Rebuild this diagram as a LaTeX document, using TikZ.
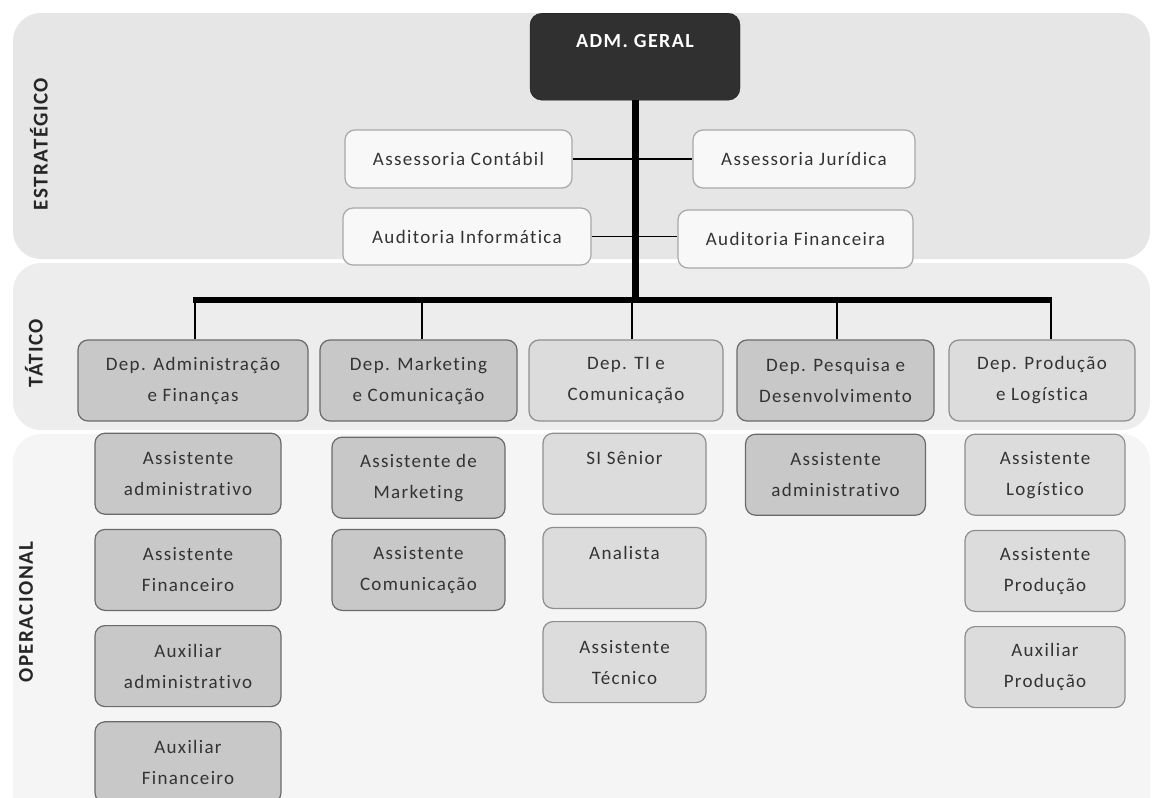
\documentclass[tikz,border=0pt]{standalone}
\usepackage{fontspec}
\setmainfont{Carlito}[LetterSpace=7, Ligatures=NoCommon]
\usetikzlibrary{positioning}
\definecolor{bandstrat}{HTML}{E6E6E6}
\definecolor{bandtat}{HTML}{EDEDED}
\definecolor{bandop}{HTML}{F5F5F5}
\definecolor{darkfill}{HTML}{C8C8C8}
\definecolor{lightfill}{HTML}{DCDCDC}
\definecolor{darkline}{HTML}{6A6A6A}
\definecolor{lightline}{HTML}{8E8E8E}
\definecolor{staffline}{HTML}{A8A8A8}
\definecolor{staffwhite}{HTML}{F8F8F8}
\definecolor{textgray}{HTML}{333333}
\definecolor{admfill}{HTML}{303030}
\tikzset{%
    band/.style = {rounded corners=28pt},
    bandlabel/.style = {rotate=90, text=black!85,
        font=\fontsize{21}{21}\selectfont\bfseries},
    unit/.style = {rectangle, rounded corners=10pt, line width=1.2pt,
        inner sep=0pt, align=center, text=textgray,
        font=\fontsize{19}{31}\selectfont},
    staff/.style = {unit, fill=staffwhite, draw=staffline, minimum height=58pt},
    deptdark/.style = {unit, fill=darkfill, draw=darkline, minimum height=81pt},
    deptlight/.style = {unit, fill=lightfill, draw=lightline, minimum height=81pt},
    admbox/.style = {rectangle, rounded corners=12pt, fill=admfill, draw=black!90,
        inner sep=0pt, minimum width=210pt, text=white,
        font=\fontsize{20}{20}\selectfont\bfseries},
    trunk/.style = {draw=black, line width=7pt},
    bus/.style = {draw=black, line width=6pt},
    link/.style = {draw=black, line width=1.5pt},
}

\begin{document}
\begin{tikzpicture}[x=1pt, y=-1pt, node distance=12pt]
    \useasboundingbox (0,0) rectangle (1152,798);
    \clip (0,0) rectangle (1152,798);
    % faixas dos niveis
    \fill[band, bandop] (13,434) rectangle (1150,840);
    \fill[band, bandtat] (13,263) rectangle (1150,430);
    \fill[band, bandstrat] (13,13) rectangle (1150,259);
    \node[bandlabel] (lstrat) at (39,144) {ESTRATÉGICO};
    \node[bandlabel] (ltat) at (34,353) {TÁTICO};
    \node[bandlabel] (lop) at (26,612) {OPERACIONAL};

    % topo e assessorias
    \node[admbox, anchor=north, text height=34pt, text depth=53pt] (adm) at (635,13) {ADM. GERAL};
    \node[staff, minimum width=227pt] (contabil) at (458.5,159) {Assessoria Contábil};
    \node[staff, minimum width=222pt] (juridica) at (804,159) {Assessoria Jurídica};
    \node[staff, minimum width=248pt, minimum height=57pt] (informatica) at (467,236.5) {Auditoria Informática};
    \node[staff, minimum width=235pt] (financeira) at (795.5,239) {Auditoria Financeira};

    % departamentos
    \node[deptdark, minimum width=230pt] (dafin) at (193,380.5) {Dep. Administração\\e Finanças};
    \node[deptdark, minimum width=197pt] (dmkt) at (418.5,380.5) {Dep. Marketing\\e Comunicação};
    \node[deptlight, minimum width=194pt] (dti) at (626,380.5) {Dep. TI e\\Comunicação};
    \node[deptdark, minimum width=197pt] (dpesq) at (835.5,380.5) {Dep. Pesquisa e\\Desenvolvimento};
    \node[deptlight, minimum width=186pt] (dprod) at (1042,380.5) {Dep. Produção\\e Logística};

    % ligacoes
    \coordinate (hub) at (635,300);
    \draw[trunk] (adm.south) -- (hub);
    \draw[link] (contabil.east) -- (juridica.west);
    \draw[link] (informatica.east) -- (informatica.east -| financeira.west);
    \draw[bus] (dafin.north |- hub) -- ([xshift=10pt]dprod.north |- hub);
    \foreach \d/\dx in {dafin/2, dmkt/3.5, dti/6, dpesq/1.5, dprod/9}
        \draw[link] ([xshift=\dx pt]\d.north) -- ([xshift=\dx pt]\d.north |- hub);

    % operacional
    \node[deptdark, minimum width=186pt, below=11pt of dafin, xshift=-5pt] (asadm) {Assistente\\administrativo};
    \node[deptdark, minimum width=186pt, below=14pt of asadm] (asfin) {Assistente\\Financeiro};
    \node[deptdark, minimum width=186pt, below=14pt of asfin] (auxadm) {Auxiliar\\administrativo};
    \node[deptdark, minimum width=186pt, below=14pt of auxadm] (auxfin) {Auxiliar\\Financeiro};

    \node[deptdark, minimum width=173pt, below=15pt of dmkt] (asmkt) {Assistente de\\Marketing};
    \node[deptdark, minimum width=173pt, below=10pt of asmkt] (ascom) {Assistente\\Comunicação};

    \node[deptlight, minimum width=163pt, below=11pt of dti, xshift=-1.5pt] (sisen) {SI Sênior\\\phantom{A}};
    \node[deptlight, minimum width=163pt, below=12pt of sisen] (anal) {Analista\\\phantom{A}};
    \node[deptlight, minimum width=163pt, below=12pt of anal] (astec) {Assistente\\Técnico};

    \node[deptdark, minimum width=180pt, below=12pt of dpesq] (aspesq) {Assistente\\administrativo};

    \node[deptlight, minimum width=160pt, below=12pt of dprod, xshift=3pt] (aslog) {Assistente\\Logístico};
    \node[deptlight, minimum width=160pt, below=14pt of aslog] (asprod) {Assistente\\Produção};
    \node[deptlight, minimum width=160pt, below=14pt of asprod] (auxprod) {Auxiliar\\Produção};
\end{tikzpicture}
\end{document}
